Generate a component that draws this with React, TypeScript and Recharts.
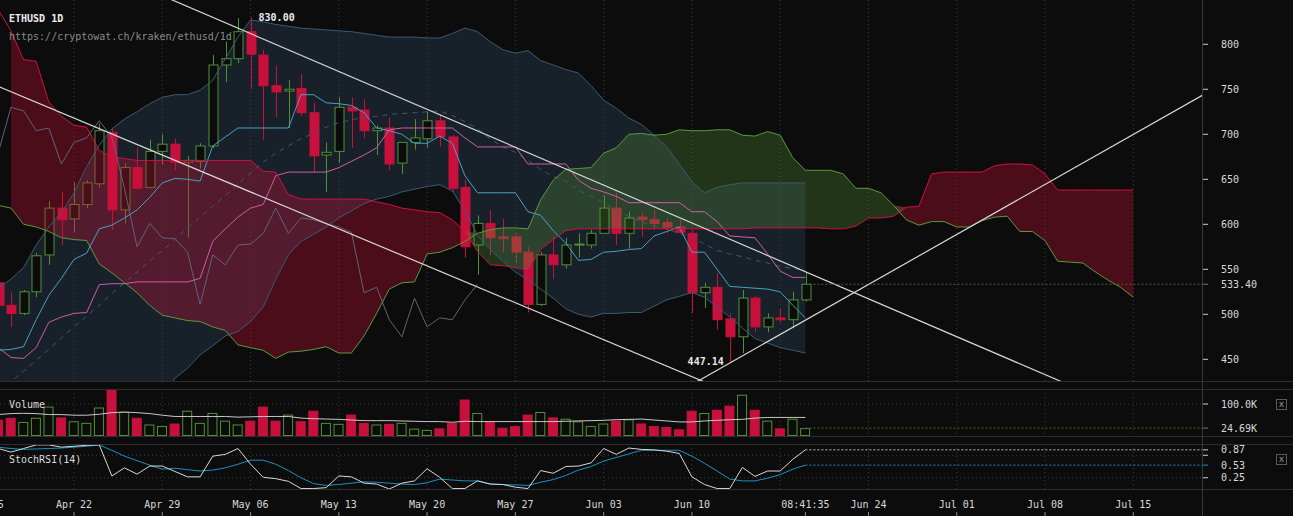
import React from 'react';
import {
  ComposedChart,
  Bar,
  Line,
  Area,
  XAxis,
  YAxis,
  CartesianGrid,
  ReferenceLine,
  ReferenceDot,
} from 'recharts';

// day offsets, 0 = Apr 22 (2018). candles run from day -6 to day 58, the cloud to day 84
const firstDay = -6;
const xDomain = [-5.87, 89.45];

const weekTicks = [-7, 0, 7, 14, 21, 28, 35, 42, 49, 56, 63, 70, 77, 84];
const dateTicks = [-7, 0, 7, 14, 21, 28, 35, 42, 49, 58, 63, 70, 77, 84];
const dateLabels = ['Apr 15', 'Apr 22', 'Apr 29', 'May 06', 'May 13', 'May 20', 'May 27', 'Jun 03', 'Jun 10', '08:41:35', 'Jun 24', 'Jul 01', 'Jul 08', 'Jul 15'];

const priceTicks = [450, 500, 533.4, 550, 600, 650, 700, 750, 800];
const priceGrid = [450, 500, 550, 600, 650, 700, 750, 800];
const volumeTicks = [24.69, 100];
const stochTicks = [0.25, 0.53, 0.75, 0.87];

const open = [535, 510, 501, 525, 566, 618, 606, 622, 645, 702, 616, 663, 641, 681, 689, 669, 670, 687, 777, 784, 814, 788, 754, 748, 751, 724, 677, 681, 730, 727, 704, 707, 668, 691, 695, 715, 697, 641, 577, 601, 586, 586, 569, 511, 566, 555, 577, 577, 590, 618, 590, 608, 605, 602, 597, 590, 524, 530, 495, 475, 518, 486, 496, 494, 516];
const high = [542, 524, 527, 568, 626, 636, 647, 649, 712, 707, 668, 685, 694, 700, 695, 676, 690, 788, 803, 829, 830, 794, 776, 760, 767, 735, 691, 741, 741, 739, 710, 719, 691, 717, 725, 722, 699, 649, 610, 616, 606, 590, 575, 569, 586, 585, 590, 594, 632, 635, 614, 613, 616, 607, 605, 594, 535, 546, 501, 527, 521, 501, 506, 525, 546];
const low = [505, 486, 499, 519, 555, 577, 591, 618, 641, 594, 601, 640, 640, 666, 660, 585, 662, 685, 758, 779, 751, 694, 719, 707, 720, 658, 636, 668, 685, 696, 677, 660, 656, 683, 685, 686, 636, 563, 544, 566, 569, 557, 502, 509, 539, 551, 563, 573, 590, 577, 573, 586, 594, 590, 590, 501, 507, 483, 447.14, 457, 480, 480, 491, 485, 514];
const close = [510, 501, 525, 565, 618, 605, 622, 646, 704, 616, 663, 640, 681, 689, 669, 671, 687, 777, 784, 814, 789, 754, 747, 750, 724, 676, 680, 730, 726, 704, 707, 667, 691, 696, 715, 697, 640, 575, 601, 585, 584, 569, 511, 566, 555, 577, 578, 590, 618, 590, 607, 605, 601, 597, 591, 524, 530, 494, 475, 518, 486, 496, 494, 516, 533.4];

const bbUpper = [529, 539, 552, 577, 597, 613, 635, 664, 688, 706, 717, 725, 734, 741, 744, 744, 749, 760, 784, 808, 827, 825, 822, 820, 818, 817, 816, 815, 814, 812, 810, 808, 808, 808, 807, 807, 812, 818, 814, 803, 794, 790, 793, 782, 777, 772, 768, 754, 738, 729, 718, 711, 699, 686, 667, 647, 635, 641, 644, 646, 646, 646, 646, 646, 646];
const bbMid = [415, 425, 437, 449, 461, 474, 486, 498, 510, 523, 535, 547, 559, 571, 583, 596, 608, 620, 632, 645, 657, 669, 679, 687, 695, 701, 708, 713, 716, 719, 720, 722, 723, 724, 725, 726, 721, 714, 706, 695, 686, 680, 671, 661, 653, 648, 638, 631, 624, 616, 609, 603, 598, 595, 590, 586, 578, 571, 567, 564, 560, 557, 553, 551, 549];
const bbLower = [300, 311, 322, 321, 325, 335, 337, 332, 332, 340, 353, 369, 384, 401, 429, 440, 455, 465, 476, 481, 492, 508, 539, 566, 581, 589, 597, 607, 615, 623, 628, 631, 636, 639, 642, 644, 637, 615, 588, 572, 559, 547, 538, 528, 518, 506, 500, 497, 501, 501, 502, 502, 509, 516, 520, 524, 519, 508, 497, 485, 473, 468, 463, 460, 457];

const tenkan = [460, 461, 464, 494, 521, 540, 561, 568, 595, 599, 607, 616, 630, 646, 651, 650, 648, 687, 697, 707, 707, 707, 707, 707, 744, 744, 735, 734, 732, 724, 707, 704, 700, 690, 690, 698, 690, 654, 635, 635, 635, 635, 614, 610, 593, 579, 560, 561, 569, 570, 572, 573, 587, 592, 597, 569, 569, 550, 531, 530, 529, 528, 525, 510, 496];
const kijun = [463, 452, 451, 463, 491, 497, 501, 502, 533, 534, 534, 536, 536, 536, 536, 536, 540, 581, 595, 608, 618, 622, 654, 658, 658, 658, 658, 663, 670, 677, 685, 705, 707, 707, 707, 707, 707, 696, 686, 686, 686, 686, 667, 667, 667, 667, 649, 640, 636, 631, 624, 624, 624, 624, 624, 614, 614, 603, 587, 586, 585, 567, 548, 541, 541];

// leading spans, day -6 .. 84
const spanRed = [
  838, 815, 783, 781, 736, 720, 710, 708, 682, 675, 673, 671, 671, 671, 671, 671, 671, 671, 671, 671,
  671, 659, 658, 633, 628, 628, 628, 628, 628, 628, 625, 622, 618, 616, 614, 613, 605, 592, 570, 555,
  554, 552, 549, 572, 583, 593, 595, 595, 595, 595, 595, 595, 595, 595, 595, 595, 595, 595, 595, 595,
  596, 596, 596, 596, 596, 596, 595, 595, 598, 607, 607, 609, 619, 620, 656, 658, 658, 658, 658, 665,
  667, 667, 666, 656, 638, 638, 638, 638, 638, 638, 638,
];
const spanGreen = [
  621, 618, 600, 597, 592, 585, 583, 582, 556, 546, 535, 524, 510, 499, 496, 493, 492, 486, 482, 466,
  463, 460, 451, 458, 459, 461, 464, 457, 457, 476, 501, 528, 535, 536, 567, 569, 574, 581, 590, 594,
  596, 596, 595, 627, 649, 661, 662, 663, 679, 685, 700, 701, 699, 700, 705, 704, 704, 705, 705, 699,
  698, 703, 699, 674, 660, 660, 660, 656, 640, 640, 635, 621, 605, 599, 603, 603, 597, 597, 604, 608,
  609, 592, 592, 582, 559, 558, 557, 547, 538, 530, 519,
];

// volume in thousands
const volume = [51, 57, 44, 57, 92, 58, 46, 41, 89, 145, 75, 57, 36, 31, 39, 79, 41, 72, 48, 36, 48, 92, 48, 67, 46, 79, 41, 38, 67, 41, 36, 38, 41, 23, 19, 24, 41, 114, 72, 46, 26, 31, 67, 75, 58, 54, 46, 31, 39, 48, 52, 39, 31, 28, 21, 79, 72, 82, 95, 129, 82, 48, 24, 54, 24.69];
const volumeMa = [67, 70, 71, 70, 67, 67, 65, 65, 68, 73, 75, 73, 70, 65, 61, 61, 61, 61, 61, 59, 60, 61, 61, 61, 56, 54, 53, 52, 50, 48, 48, 48, 47, 46, 45, 45, 43, 46, 45, 45, 45, 45, 45, 45, 45, 46, 47, 48, 49, 51, 52, 53, 50, 47, 44, 44, 47, 49, 51, 52, 56, 58, 58, 58, 58];

const stochK = [0.9, 0.82, 0.9, 0.98, 0.98, 0.93, 0.95, 0.97, 0.98, 0.29, 0.47, 0.33, 0.51, 0.51, 0.39, 0.27, 0.27, 0.73, 0.77, 0.9, 0.55, 0.26, 0.23, 0.17, 0.01, 0.01, 0.03, 0.29, 0.27, 0.13, 0.11, 0.0, 0.13, 0.18, 0.45, 0.26, 0.01, 0.01, 0.18, 0.11, 0.1, 0.04, 0.01, 0.41, 0.35, 0.5, 0.51, 0.58, 0.9, 0.77, 0.91, 0.88, 0.87, 0.84, 0.79, 0.27, 0.1, 0.01, 0.01, 0.48, 0.28, 0.4, 0.4, 0.66, 0.87];
const stochD = [0.93, 0.9, 0.88, 0.89, 0.9, 0.91, 0.93, 0.95, 0.98, 0.86, 0.73, 0.63, 0.53, 0.44, 0.46, 0.43, 0.4, 0.42, 0.47, 0.55, 0.64, 0.64, 0.55, 0.41, 0.25, 0.12, 0.08, 0.1, 0.13, 0.16, 0.15, 0.13, 0.11, 0.1, 0.14, 0.22, 0.2, 0.18, 0.18, 0.11, 0.1, 0.09, 0.08, 0.15, 0.21, 0.3, 0.42, 0.5, 0.62, 0.7, 0.78, 0.86, 0.86, 0.86, 0.86, 0.73, 0.57, 0.4, 0.22, 0.18, 0.18, 0.24, 0.32, 0.44, 0.53];

// hand drawn channel lines, [start, end] in (day, price)
const trendLines = [
  [{ x: 5, y: 866 }, { x: 80, y: 415 }],
  [{ x: -7, y: 759 }, { x: 51, y: 419 }],
  [{ x: 49, y: 422 }, { x: 90, y: 747.5 }],
];
const lastDay = 58;
const lastPrice = 533.4;
const lastVolume = 24.69;
const lastK = 0.87;
const lastD = 0.53;

const FONT = '"DejaVu Sans Mono", monospace';
const BG = '#0c0c0c';
const UP = '#4f9236';
const DOWN = '#c8103c';
const GRID = '#3d3d3d';
const W = 1293;
const AXIS_W = 91;
const priceDomain = [425.9, 849.2];

const rows = spanRed.map((r, i) => {
  const g = spanGreen[i];
  const c = i < close.length;
  const top = Math.max(r, g);
  return {
    d: firstDay + i,
    open: c ? open[i] : null,
    high: c ? high[i] : null,
    low: c ? low[i] : null,
    close: c ? close[i] : null,
    range: c ? [low[i], high[i]] : null,
    bb: c ? [bbLower[i], bbUpper[i]] : null,
    bbUpper: c ? bbUpper[i] : null,
    bbLower: c ? bbLower[i] : null,
    bbMid: c ? bbMid[i] : null,
    tenkan: c ? tenkan[i] : null,
    kijun: c ? kijun[i] : null,
    chikou: i + 26 < close.length ? close[i + 26] : null,
    spanRed: r,
    spanGreen: g,
    cloudRed: i === 0 ? null : r >= g ? [g, r] : [top, top],
    cloudGreen: i === 0 ? null : g > r ? [r, g] : [top, top],
    vol: c ? volume[i] : null,
    volMa: c ? volumeMa[i] : null,
    k: c ? stochK[i] : null,
    dline: c ? stochD[i] : null,
  };
});

function Candle(props: any) {
  const { x, y, width, height, payload } = props;
  if (!payload || payload.open == null || height == null) return null;
  const span = payload.high - payload.low;
  const k = span > 0 ? height / span : 0;
  const yo = y + (payload.high - payload.open) * k;
  const yc = y + (payload.high - payload.close) * k;
  const up = payload.close >= payload.open;
  const color = up ? UP : DOWN;
  const cx = Math.round(x + width / 2) + 0.5;
  const top = Math.min(yo, yc);
  const bh = Math.max(Math.abs(yc - yo), 1);
  return (
    <g>
      <line x1={cx} x2={cx} y1={y} y2={top} stroke={color} />
      <line x1={cx} x2={cx} y1={top + bh} y2={y + height} stroke={color} />
      <rect x={cx - 4.5} y={top} width={9} height={bh} fill={up ? BG : color} stroke={color} />
    </g>
  );
}

function VolumeBar(props: any) {
  const { x, y, width, height, payload } = props;
  if (!payload || payload.vol == null || !height) return null;
  const up = payload.close >= payload.open;
  return (
    <rect
      x={x + 0.5}
      y={y + 0.5}
      width={width - 1}
      height={Math.max(height - 1, 1)}
      fill={up ? BG : DOWN}
      stroke={up ? UP : DOWN}
    />
  );
}

function makeValueTick(fmt: (v: number) => string, mark: (v: number) => string) {
  return (props: any) => {
    const { x, y, payload } = props;
    const label = fmt(payload.value);
    return (
      <g>
        <line x1={x - 19} x2={x - 13} y1={y} y2={y} stroke={mark(payload.value)} />
        {label ? (
          <text x={x} y={y} dy={3.5} fill="#d9d9d9" fontSize={10} fontFamily={FONT}>
            {label}
          </text>
        ) : null}
      </g>
    );
  };
}

const priceTick = makeValueTick(
  (v) => (v === lastPrice ? v.toFixed(2) : String(v)),
  (v) => (v === lastPrice ? UP : '#cfcfcf'),
);
const volumeTick = makeValueTick(
  (v) => (v === 100 ? '100.0K' : v.toFixed(2) + 'K'),
  (v) => (v === lastVolume ? UP : '#cfcfcf'),
);
const stochTick = makeValueTick(
  (v) => (v === 0.75 ? '' : v.toFixed(2)),
  (v) => (v === lastD ? '#1f8fc0' : '#cfcfcf'),
);

function DateTick(props: any) {
  const { x, y, payload } = props;
  const label = dateLabels[dateTicks.indexOf(payload.value)];
  return (
    <g>
      <text x={x} y={y} dy={7.5} textAnchor="middle" fill="#d9d9d9" fontSize={10} fontFamily={FONT}>
        {label}
      </text>
      <line x1={x} x2={x} y1={y + 12} y2={y + 16} stroke="#8a8a8a" />
    </g>
  );
}

const margin = { top: 0, right: 0, bottom: 0, left: 0 };

const layer = (top: number): React.CSSProperties => ({ position: 'absolute', left: 0, top });

function hiddenX() {
  return <XAxis type="number" dataKey="d" domain={xDomain} allowDataOverflow hide />;
}

function plainY(domain: number[]) {
  return (
    <YAxis orientation="right" width={AXIS_W} type="number" domain={domain} allowDataOverflow tick={false} axisLine={false} tickLine={false} />
  );
}

const textStyle: React.CSSProperties = {
  position: 'absolute',
  fontFamily: FONT,
  fontSize: 10,
  lineHeight: '10px',
  whiteSpace: 'pre',
};

function CloseBox({ top }: { top: number }) {
  return (
    <div
      style={{
        position: 'absolute',
        left: 1276,
        top,
        width: 9,
        height: 9,
        border: '1px solid #5a5a5a',
        color: '#9a9a9a',
        fontFamily: FONT,
        fontSize: 9,
        lineHeight: '9px',
        textAlign: 'center',
      }}
    >
      x
    </div>
  );
}

export default function App() {
  return (
    <div style={{ position: 'fixed', left: 0, top: 0, width: W, height: 516, background: BG, overflow: 'hidden' }}>
      {/* bollinger band fill */}
      <div style={layer(0)}>
        <ComposedChart width={W} height={381} data={rows} margin={margin}>
          {hiddenX()}
          {plainY(priceDomain)}
          <Area dataKey="bb" type="linear" fill="#18202a" fillOpacity={1} stroke="none" isAnimationActive={false} />
        </ComposedChart>
      </div>

      {/* grid and candles */}
      <div style={layer(0)}>
        <ComposedChart width={W} height={381} data={rows} margin={margin}>
          <CartesianGrid stroke={GRID} strokeDasharray="1 3" horizontalValues={priceGrid} verticalValues={weekTicks} />
          <XAxis type="number" dataKey="d" domain={xDomain} allowDataOverflow hide ticks={weekTicks} />
          <YAxis orientation="right" width={AXIS_W} type="number" domain={priceDomain} allowDataOverflow ticks={priceGrid} tick={false} axisLine={false} tickLine={false} />
          <Bar dataKey="range" barSize={9} shape={<Candle />} isAnimationActive={false} />
        </ComposedChart>
      </div>

      {/* ichimoku cloud, lines, price axis */}
      <div style={layer(0)}>
        <ComposedChart width={W} height={381} data={rows} margin={margin}>
          {hiddenX()}
          <YAxis
            orientation="right"
            width={AXIS_W}
            type="number"
            domain={priceDomain}
            allowDataOverflow
            ticks={priceTicks}
            interval={0}
            axisLine={false}
            tickLine={false}
            tickSize={0}
            tickMargin={19}
            tick={priceTick}
          />
          <Area dataKey="cloudRed" type="linear" fill="rgb(205,15,55)" fillOpacity={0.33} stroke="none" isAnimationActive={false} />
          <Area dataKey="cloudGreen" type="linear" fill="rgb(90,150,55)" fillOpacity={0.3} stroke="none" isAnimationActive={false} />
          <Line dataKey="bbUpper" stroke="#3b5b70" dot={false} activeDot={false} isAnimationActive={false} />
          <Line dataKey="bbLower" stroke="#3b5b70" dot={false} activeDot={false} isAnimationActive={false} />
          <Line dataKey="bbMid" stroke="#3b5b70" strokeDasharray="5 5" dot={false} activeDot={false} isAnimationActive={false} />
          <Line dataKey="chikou" stroke="#62627a" dot={false} activeDot={false} isAnimationActive={false} />
          <Line dataKey="kijun" stroke="#cc5fa3" dot={false} activeDot={false} isAnimationActive={false} />
          <Line dataKey="tenkan" stroke="#45a3c0" dot={false} activeDot={false} isAnimationActive={false} />
          <Line dataKey="spanRed" stroke="#d01040" dot={false} activeDot={false} isAnimationActive={false} />
          <Line dataKey="spanGreen" stroke="#5a9a3c" dot={false} activeDot={false} isAnimationActive={false} />
          {trendLines.map((seg, i) => (
            <ReferenceLine key={i} segment={seg} stroke="#d8d8d8" strokeWidth={1.2} ifOverflow="hidden" />
          ))}
          <ReferenceLine
            segment={[{ x: lastDay, y: lastPrice }, { x: xDomain[1], y: lastPrice }]}
            stroke="#3f6b2c"
            strokeDasharray="2 2"
            ifOverflow="hidden"
          />
          <ReferenceDot
            x={14}
            y={830}
            r={1}
            fill="none"
            stroke="none"
            label={{ value: '830.00', position: 'right', offset: 7, fill: '#e8e8e8', fontSize: 10, fontFamily: FONT, fontWeight: 'bold' }}
          />
          <ReferenceDot
            x={52}
            y={447.14}
            r={1}
            fill="none"
            stroke="none"
            label={{ value: '447.14', position: 'left', offset: 5, fill: '#e8e8e8', fontSize: 10, fontFamily: FONT, fontWeight: 'bold' }}
          />
        </ComposedChart>
      </div>

      {/* volume */}
      <div style={layer(389)}>
        <ComposedChart width={W} height={47} data={rows} margin={margin}>
          <CartesianGrid stroke={GRID} strokeDasharray="1 3" horizontalValues={[100]} verticalValues={weekTicks} />
          <XAxis type="number" dataKey="d" domain={xDomain} allowDataOverflow hide ticks={weekTicks} />
          <YAxis
            orientation="right"
            width={AXIS_W}
            type="number"
            domain={[0, 146.9]}
            allowDataOverflow
            ticks={volumeTicks}
            interval={0}
            axisLine={false}
            tickLine={false}
            tickSize={0}
            tickMargin={19}
            tick={volumeTick}
          />
          <Bar dataKey="vol" barSize={10} shape={<VolumeBar />} isAnimationActive={false} />
          <Line dataKey="volMa" stroke="#c8c8c8" dot={false} activeDot={false} isAnimationActive={false} />
          <ReferenceLine
            segment={[{ x: lastDay, y: lastVolume }, { x: xDomain[1], y: lastVolume }]}
            stroke="#3f6b2c"
            strokeDasharray="2 2"
            ifOverflow="hidden"
          />
        </ComposedChart>
      </div>

      {/* stoch rsi and date axis */}
      <div style={layer(444)}>
        <ComposedChart width={W} height={72} data={rows} margin={margin}>
          <CartesianGrid stroke={GRID} strokeDasharray="1 3" horizontalValues={[0.25, 0.75]} verticalValues={weekTicks} />
          <XAxis
            type="number"
            dataKey="d"
            domain={xDomain}
            allowDataOverflow
            ticks={dateTicks}
            interval={0}
            height={27}
            axisLine={false}
            tickLine={false}
            tickSize={0}
            tickMargin={11}
            tick={<DateTick />}
          />
          <YAxis
            orientation="right"
            width={AXIS_W}
            type="number"
            domain={[0, 1]}
            allowDataOverflow
            ticks={stochTicks}
            interval={0}
            axisLine={false}
            tickLine={false}
            tickSize={0}
            tickMargin={19}
            tick={stochTick}
          />
          <Line dataKey="dline" stroke="#1f8fc0" dot={false} activeDot={false} isAnimationActive={false} />
          <Line dataKey="k" stroke="#d8d8d8" dot={false} activeDot={false} isAnimationActive={false} />
          <ReferenceLine
            segment={[{ x: lastDay, y: lastK }, { x: xDomain[1], y: lastK }]}
            stroke="#bdbdbd"
            strokeDasharray="2 2"
            ifOverflow="hidden"
          />
          <ReferenceLine
            segment={[{ x: lastDay, y: lastD }, { x: xDomain[1], y: lastD }]}
            stroke="#1f8fc0"
            strokeDasharray="2 2"
            ifOverflow="hidden"
          />
        </ComposedChart>
      </div>

      {/* panel borders and price axis line */}
      {[381, 389, 436, 444, 489].map((y) => (
        <div key={y} style={{ position: 'absolute', left: 0, top: y, width: W, height: 1, background: '#2e2e2e' }} />
      ))}
      <div style={{ position: 'absolute', left: 1202, top: 0, width: 1, height: 516, background: '#383838' }} />

      <div style={{ ...textStyle, left: 9, top: 14, color: '#ececec', fontWeight: 'bold' }}>ETHUSD 1D</div>
      <div style={{ ...textStyle, left: 9, top: 32, color: '#8a8a8a' }}>https://cryptowat.ch/kraken/ethusd/1d</div>
      <div style={{ ...textStyle, left: 9, top: 400, color: '#dcdcdc' }}>Volume</div>
      <div style={{ ...textStyle, left: 9, top: 455, color: '#dcdcdc' }}>StochRSI(14)</div>
      <CloseBox top={399} />
      <CloseBox top={454} />
    </div>
  );
}
